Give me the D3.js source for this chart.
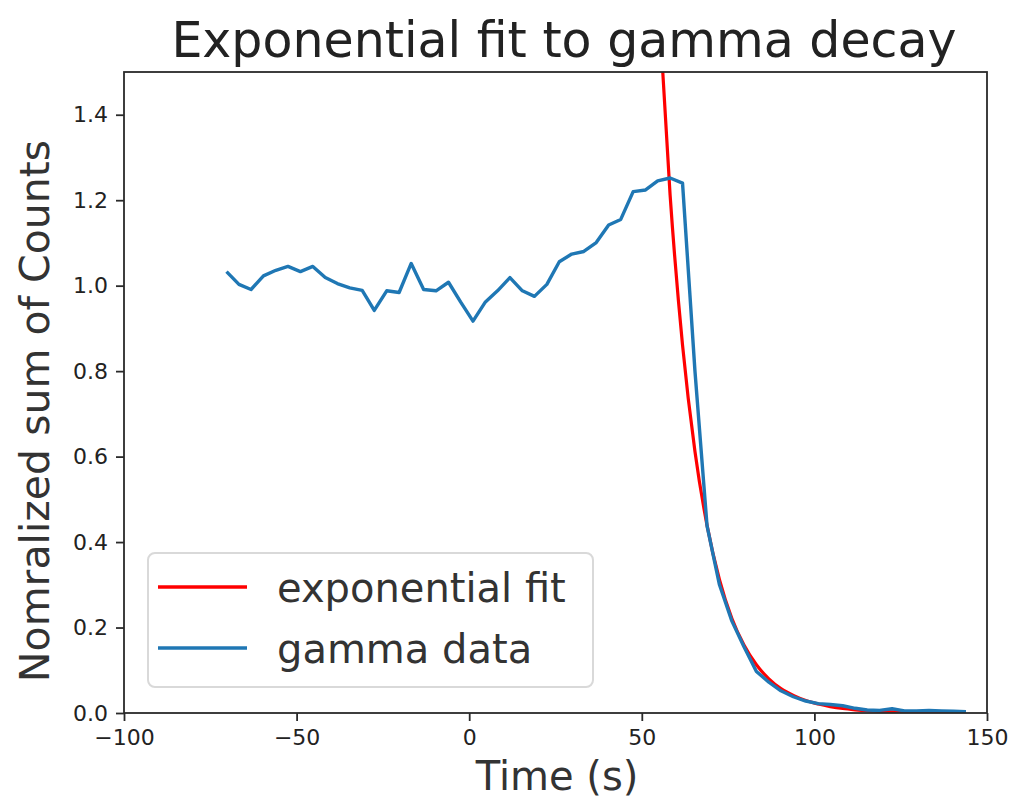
<!DOCTYPE html>
<html>
<head>
<meta charset="utf-8">
<script src="https://cdn.jsdelivr.net/npm/d3@7"></script>
<style>
  html, body { margin: 0; padding: 0; background: #fff; }
  svg { display: block; font-family: "DejaVu Sans", sans-serif; }
  .tick text { font-size: 22px; font-family: "DejaVu Sans", sans-serif; fill: #222; }
</style>
</head>
<body>
<svg id="chart" width="1013" height="798"></svg>
<script>
// ---- data ----
const gammaTime = [-70.3,-66.7,-63.2,-59.6,-56.0,-52.5,-48.9,-45.3,-41.7,-38.2,
  -34.6,-31.0,-27.5,-23.9,-20.3,-16.8,-13.2,-9.6,-6.0,-2.5,
  1.1,4.7,8.2,11.8,15.4,18.9,22.5,26.1,29.7,33.2,
  36.8,40.4,43.9,47.5,51.1,54.6,58.2,61.8,65.4,68.9,
  72.5,76.1,79.6,83.2,86.8,90.3,93.9,97.5,101.1,104.6,
  108.2,111.8,115.3,118.9,122.5,126.1,129.6,133.2,136.8,140.3,143.9];
const gammaCounts = [1.033,1.003,0.991,1.023,1.036,1.045,1.033,1.045,1.019,1.005,
  0.995,0.989,0.942,0.988,0.984,1.052,0.991,0.988,1.008,0.962,
  0.917,0.962,0.988,1.019,0.988,0.975,1.003,1.056,1.074,1.080,
  1.101,1.142,1.155,1.220,1.224,1.245,1.252,1.240,0.800,0.438,
  0.300,0.215,0.155,0.097,0.072,0.052,0.038,0.028,0.022,0.020,
  0.017,0.011,0.007,0.006,0.010,0.005,0.005,0.006,0.005,0.004,0.003];

const fitTime = [54.6,58.2,61.8,65.4,68.9,72.5,76.1,79.6,83.2,86.8,
  90.3,93.9,97.5,101.1,104.6,108.2,111.8,115.3,118.9,122.5,
  126.1,129.6,133.2,136.8,140.3,143.9];
const fitCounts = [1.70,1.212,0.861,0.612,0.439,0.312,0.221,0.159,0.113,0.080,
  0.057,0.041,0.029,0.021,0.015,0.0105,0.0075,0.0053,0.0038,0.0027,
  0.0019,0.0014,0.0010,0.0007,0.0005,0.0004];

const xTicks = [-100,-50,0,50,100,150];
const yTicks = [0.0,0.2,0.4,0.6,0.8,1.0,1.2,1.4];
const seriesNames = ["exponential fit","gamma data"];
const seriesColors = ["#ff0000","#1f77b4"];
const titleText = "Exponential fit to gamma decay";
const xLabelText = "Time (s)";
const yLabelText = "Nomralized sum of Counts";

// ---- layout ----
const L = 124, R = 987, T = 72, B = 713;
const svg = d3.select("#chart");
const x = d3.scaleLinear().domain([-100,150]).range([L,R]);
const y = d3.scaleLinear().domain([0,1.5]).range([B,T]);

svg.append("defs").append("clipPath").attr("id","clip")
  .append("rect").attr("x",L).attr("y",T).attr("width",R-L).attr("height",B-T);

const fitData = fitTime.map((t,i)=>[t,fitCounts[i]]);
const gammaData = gammaTime.map((t,i)=>[t,gammaCounts[i]]);

const plot = svg.append("g").attr("clip-path","url(#clip)");
plot.append("path").datum(fitData)
  .attr("d",d3.line().x(d=>x(d[0])).y(d=>y(d[1])).curve(d3.curveMonotoneX))
  .attr("fill","none").attr("stroke",seriesColors[0]).attr("stroke-width",3.2)
  .attr("stroke-linejoin","round");
plot.append("path").datum(gammaData)
  .attr("d",d3.line().x(d=>x(d[0])).y(d=>y(d[1])))
  .attr("fill","none").attr("stroke",seriesColors[1]).attr("stroke-width",3.4)
  .attr("stroke-linejoin","round");

// axes
const axisColor = "#2a2a2a";
const xAxis = d3.axisBottom(x).tickValues(xTicks).tickSize(8).tickPadding(8)
  .tickFormat(d => d3.format("")(d).replace("-","\u2212"));
const yAxis = d3.axisLeft(y).tickValues(yTicks).tickSize(8).tickPadding(8)
  .tickFormat(d3.format(".1f"));

const gx = svg.append("g").attr("transform",`translate(0,${B})`).call(xAxis);
const gy = svg.append("g").attr("transform",`translate(${L},0)`).call(yAxis);
[gx,gy].forEach(g=>{
  g.attr("font-size",22).attr("font-family","DejaVu Sans");
  g.select(".domain").remove();
  g.selectAll(".tick line").attr("stroke",axisColor).attr("stroke-width",1.8);
  g.selectAll(".tick text").attr("fill","#222").attr("font-size",22);
});

// spines
svg.append("rect").attr("x",L).attr("y",T).attr("width",R-L).attr("height",B-T)
  .attr("fill","none").attr("stroke",axisColor).attr("stroke-width",1.8);

// title & labels
svg.append("text").attr("x",564).attr("y",57).attr("text-anchor","middle")
  .style("font-size","49px").attr("fill","#222").text(titleText);
svg.append("text").attr("x",557).attr("y",790).attr("text-anchor","middle")
  .style("font-size","40px").attr("fill","#333").text(xLabelText);
svg.append("text").attr("transform","translate(49,411) rotate(-90)")
  .attr("text-anchor","middle").style("font-size","41px").attr("fill","#333").text(yLabelText);

// legend
const lg = svg.append("g");
lg.append("rect").attr("x",148).attr("y",553).attr("width",445).attr("height",134)
  .attr("rx",7).attr("fill","#fff").attr("fill-opacity",0.85)
  .attr("stroke","#d9d9d9").attr("stroke-width",2);
const legY = [587,648];
seriesNames.forEach((n,i)=>{
  lg.append("line").attr("x1",158).attr("x2",247).attr("y1",legY[i]).attr("y2",legY[i])
    .attr("stroke",seriesColors[i]).attr("stroke-width",3.4);
  lg.append("text").attr("x",277).attr("y",legY[i]+15)
    .style("font-size","40px").attr("fill","#333").text(n);
});
</script>
</body>
</html>
